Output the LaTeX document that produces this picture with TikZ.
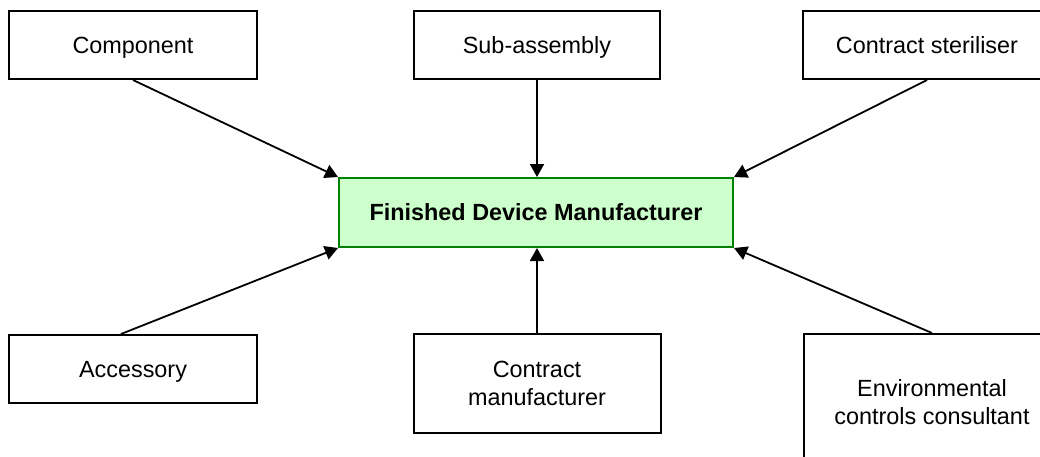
\documentclass[tikz,border=0pt]{standalone}
\usepackage{fontspec}
\setmainfont{Liberation Sans}
\usetikzlibrary{arrows.meta}
\definecolor{fdmfill}{HTML}{CCFFCC}
\definecolor{fdmline}{HTML}{008000}
\tikzset{
  party/.style={draw=black,line width=1pt,fill=white,align=center,
    inner sep=2pt,font=\fontsize{11.7}{14}\selectfont},
  oneline/.style={party,text height=0.8em,text depth=0pt},
  hub/.style={party,draw=fdmline,fill=fdmfill,font=\fontsize{11.7}{14}\selectfont\bfseries},
  feed/.style={line width=0.9pt,-{Triangle[length=6.5pt,width=7pt]}}
}
\begin{document}
\begin{tikzpicture}[x=0.5pt,y=-0.5pt]
\clip (0,0) rectangle (1040,456);
\fill[white] (0,0) rectangle (1040,456);
% suppliers round the manufacturer
\node[hub,minimum width=197pt,minimum height=34.5pt] (fdm) at (536,212.5) {Finished Device Manufacturer};
\node[oneline,minimum width=124pt,minimum height=34pt] (comp) at (133,45) {Component};
\node[oneline,minimum width=123pt,minimum height=34pt] (sub) at (537,45) {Sub-assembly};
\node[oneline,minimum width=124pt,minimum height=34pt] (ster) at (927,45) {Contract steriliser};
\node[oneline,minimum width=124pt,minimum height=34pt] (acc) at (133,369) {Accessory};
\node[party,minimum width=123.5pt,minimum height=49.5pt] (cman) at (537,383.5) {Contract\\manufacturer};
\node[party,minimum width=128pt,minimum height=68pt] (env) at (932,402) {Environmental\\controls consultant};
% arrows into the hub
\draw[feed] (comp.south) -- (fdm.north west);
\draw[feed] (sub.south) -- (sub.south |- fdm.north);
\draw[feed] (ster.south) -- (fdm.north east);
\draw[feed] ([xshift=-6pt]acc.north) -- (fdm.south west);
\draw[feed] (cman.north) -- (cman.north |- fdm.south);
\draw[feed] (env.north) -- (fdm.south east);
\end{tikzpicture}
\end{document}
